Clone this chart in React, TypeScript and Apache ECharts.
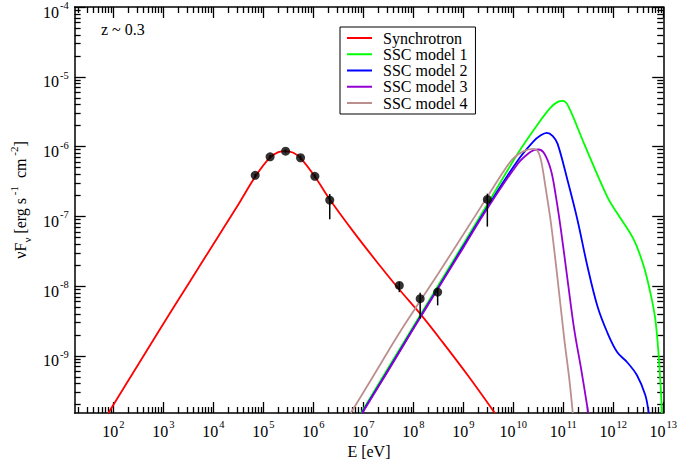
import React, { useEffect, useRef } from 'react';
import * as echarts from 'echarts';

// Axis ranges (log10 units)
const xMin = 1.225;
const xMax = 13;
const yMin = -9.82;
const yMax = -4;

// Major tick exponents
const xMajor = [2, 3, 4, 5, 6, 7, 8, 9, 10, 11, 12, 13];
const yMajor = [-9, -8, -7, -6, -5, -4];
const minorSteps = [2, 3, 4, 5, 6, 7, 8, 9];

// Synchrotron model (log10 E [eV], log10 nuFnu)
const synLogE = [1.9, 2.5, 3.0, 3.5, 4.0, 4.5, 4.84, 5.13, 5.3, 5.45, 5.6, 5.75, 6.03, 6.33, 6.8, 7.3, 7.72, 8.14, 8.57, 9.1, 9.63];
const synLogF = [-9.82, -9.12, -8.54, -7.97, -7.4, -6.83, -6.43, -6.16, -6.08, -6.065, -6.09, -6.17, -6.43, -6.76, -7.22, -7.68, -8.05, -8.4, -8.79, -9.29, -9.82];

// SSC model 1 (green)
const ssc1LogE = [6.955, 7.5, 7.97, 8.5, 9.0, 9.48, 10.09, 10.49, 10.75, 10.89, 10.99, 11.1, 11.418, 11.881, 12.08, 12.412, 12.61, 12.742, 12.841, 12.909, 12.954, 12.974];
const ssc1LogF = [-9.82, -9.17, -8.617, -7.99, -7.4, -6.83, -6.1, -5.68, -5.44, -5.36, -5.346, -5.42, -5.962, -6.722, -6.958, -7.337, -7.717, -8.095, -8.475, -8.997, -9.518, -9.82];

// SSC model 2 (blue)
const ssc2LogE = [6.97, 7.5, 7.97, 8.5, 9.0, 9.48, 10.09, 10.4, 10.55, 10.67, 10.79, 10.887, 11.085, 11.284, 11.483, 11.682, 11.881, 12.08, 12.278, 12.477, 12.642, 12.708];
const ssc2LogF = [-9.82, -9.2, -8.64, -8.02, -7.43, -6.87, -6.2, -5.93, -5.84, -5.805, -5.85, -5.962, -6.484, -7.053, -7.717, -8.286, -8.666, -8.95, -9.092, -9.282, -9.567, -9.82];

// SSC model 3 (violet)
const ssc3LogE = [6.98, 7.5, 7.97, 8.5, 9.0, 9.48, 10.09, 10.3, 10.42, 10.5, 10.62, 10.754, 10.854, 10.953, 11.085, 11.218, 11.36, 11.5];
const ssc3LogF = [-9.82, -9.21, -8.65, -8.03, -7.45, -6.89, -6.246, -6.1, -6.05, -6.043, -6.1, -6.341, -6.722, -7.196, -7.907, -8.618, -9.2, -9.82];

// SSC model 4 (brown)
const ssc4LogE = [6.75, 7.2, 7.77, 8.5, 9.0, 9.5, 9.8, 10.0, 10.2, 10.39, 10.48, 10.555, 10.654, 10.754, 10.887, 11.02, 11.12, 11.19];
const ssc4LogF = [-9.82, -9.29, -8.617, -7.82, -7.26, -6.7, -6.36, -6.17, -6.07, -6.033, -6.057, -6.199, -6.626, -7.1, -7.906, -8.76, -9.33, -9.82];

// Observed data points with error bars
const obsLogE = [4.837, 5.135, 5.445, 5.744, 6.03, 6.328, 7.72, 8.137, 8.487, 9.481];
const obsLogF = [-6.413, -6.147, -6.067, -6.161, -6.427, -6.768, -7.991, -8.181, -8.087, -6.758];
const obsErrLo = [-6.44, -6.17, -6.09, -6.19, -6.45, -7.043, -8.087, -8.467, -8.277, -7.148];
const obsErrHi = [-6.39, -6.12, -6.04, -6.13, -6.40, -6.68, -7.944, -8.097, -8.034, -6.676];

const seriesNames = ['Synchrotron', 'SSC model 1', 'SSC model 2', 'SSC model 3', 'SSC model 4'];
const seriesColors = ['#ff0000', '#00ff00', '#0000ff', '#9400d3', '#bc8f8f'];

const FONT = '"Liberation Serif", "Times New Roman", "DejaVu Serif", serif';

const zip = (a: number[], b: number[]) => a.map((v, i) => [v, b[i]]);

const minorOf = (lo: number, hi: number) => {
  const out: number[] = [];
  for (let d = Math.floor(lo); d < Math.ceil(hi); d++) {
    for (const k of minorSteps) {
      const v = d + Math.log10(k);
      if (v > lo && v < hi) out.push(v);
    }
  }
  return out;
};

export default function App() {
  const ref = useRef<HTMLDivElement>(null);
  useEffect(() => {
    const chart = echarts.init(ref.current!, null, { renderer: 'svg' });
    const xMinor = minorOf(xMin, xMax);
    const yMinor = minorOf(yMin, yMax);
    const rich = {
      b: { fontSize: 16, fontFamily: FONT, color: '#000', lineHeight: 24 },
      s: { fontSize: 10.5, fontFamily: FONT, color: '#000', verticalAlign: 'top', padding: [0, 0, 0, 1] },
    };
    const tickLine = { color: '#000', width: 1.3 };
    const axisBase = {
      type: 'value',
      splitLine: { show: false },
      splitArea: { show: false },
    };
    const xAxes = [
      {
        ...axisBase, position: 'bottom', min: xMin, max: xMax,
        axisLine: { show: true, lineStyle: { color: '#000', width: 1.5 } },
        axisTick: { show: true, inside: true, length: 11, customValues: xMajor, lineStyle: tickLine },
        axisLabel: {
          show: true, customValues: xMajor, margin: 6, rich,
          formatter: (v: number) => `{b|10}{s|${Math.round(v)}}`,
        },
        name: 'E [eV]', nameLocation: 'middle', nameGap: 29,
        nameTextStyle: { fontFamily: FONT, fontSize: 16, color: '#000' },
      },
      {
        ...axisBase, position: 'bottom', min: xMin, max: xMax,
        axisLine: { show: false },
        axisTick: { show: true, inside: true, length: 6, customValues: xMinor, lineStyle: tickLine },
        axisLabel: { show: false },
      },
      {
        ...axisBase, position: 'top', min: xMin, max: xMax,
        axisLine: { show: true, lineStyle: { color: '#000', width: 1.5 } },
        axisTick: { show: true, inside: true, length: 11, customValues: xMajor, lineStyle: tickLine },
        axisLabel: { show: false },
      },
      {
        ...axisBase, position: 'top', min: xMin, max: xMax,
        axisLine: { show: false },
        axisTick: { show: true, inside: true, length: 6, customValues: xMinor, lineStyle: tickLine },
        axisLabel: { show: false },
      },
    ];
    const yAxes = [
      {
        ...axisBase, position: 'left', min: yMin, max: yMax,
        axisLine: { show: true, lineStyle: { color: '#000', width: 1.5 } },
        axisTick: { show: true, inside: true, length: 11, customValues: yMajor, lineStyle: tickLine },
        axisLabel: {
          show: true, customValues: yMajor, margin: 6, rich, padding: [10, 0, 0, 0],
          formatter: (v: number) => `{b|10}{s|${Math.round(v)}}`,
        },
        name: '{a|νF}{sub|ν}{a| [erg s}{sup| -1}{a|  cm}{sup| -2}{a|]}',
        nameLocation: 'middle', nameGap: 40, nameRotate: 90,
        nameTextStyle: {
          fontFamily: FONT, fontSize: 16, color: '#000', padding: [0, 0, 0, 20],
          rich: {
            a: { fontFamily: FONT, fontSize: 16, color: '#000', lineHeight: 24 },
            sub: { fontFamily: FONT, fontSize: 11, color: '#000', verticalAlign: 'bottom' },
            sup: { fontFamily: FONT, fontSize: 11, color: '#000', verticalAlign: 'top' },
          },
        },
      },
      {
        ...axisBase, position: 'left', min: yMin, max: yMax,
        axisLine: { show: false },
        axisTick: { show: true, inside: true, length: 6, customValues: yMinor, lineStyle: tickLine },
        axisLabel: { show: false },
      },
      {
        ...axisBase, position: 'right', min: yMin, max: yMax,
        axisLine: { show: true, lineStyle: { color: '#000', width: 1.5 } },
        axisTick: { show: true, inside: true, length: 11, customValues: yMajor, lineStyle: tickLine },
        axisLabel: { show: false },
      },
      {
        ...axisBase, position: 'right', min: yMin, max: yMax,
        axisLine: { show: false },
        axisTick: { show: true, inside: true, length: 6, customValues: yMinor, lineStyle: tickLine },
        axisLabel: { show: false },
      },
    ];

    const curves = [
      zip(synLogE, synLogF),
      zip(ssc1LogE, ssc1LogF),
      zip(ssc2LogE, ssc2LogF),
      zip(ssc3LogE, ssc3LogF),
      zip(ssc4LogE, ssc4LogF),
    ];

    const lineSeries = curves.map((data, i) => ({
      name: seriesNames[i],
      type: 'line',
      xAxisIndex: 0,
      yAxisIndex: 0,
      data,
      color: seriesColors[i],
      symbol: 'none',
      showSymbol: false,
      smooth: 0.35,
      lineStyle: { color: seriesColors[i], width: 1.8 },
      z: 3,
    }));

    const errData = obsLogE.map((x, i) => [x, obsErrLo[i], obsErrHi[i]]);

    chart.setOption({
      animation: false,
      backgroundColor: '#fff',
      grid: { left: 74, right: 14, top: 4, bottom: 52, containLabel: false },
      xAxis: xAxes,
      yAxis: yAxes,
      legend: {
        show: true,
        data: seriesNames,
        orient: 'vertical',
        left: 340,
        top: 27,
        icon: 'rect',
        itemWidth: 25,
        itemHeight: 2,
        itemGap: 0.25,
        padding: [3, 8, 3, 7],
        borderColor: '#000',
        borderWidth: 1,
        backgroundColor: '#fff',
        selectedMode: false,
        textStyle: { fontFamily: FONT, fontSize: 16, color: '#000', lineHeight: 15.5, padding: [0, 0, 0, 6] },
      },
      graphic: [
        {
          type: 'text', left: 101, top: 21,
          style: { text: 'z ~ 0.3', fontFamily: FONT, fontSize: 16, fill: '#000' },
        },
      ],
      series: [
        ...lineSeries,
        {
          type: 'custom',
          name: 'errors',
          xAxisIndex: 0,
          yAxisIndex: 0,
          data: errData,
          encode: { x: 0, y: [1, 2] },
          z: 4,
          renderItem: (params: any, api: any) => {
            const x = api.value(0);
            const p1 = api.coord([x, api.value(1)]);
            const p2 = api.coord([x, api.value(2)]);
            return {
              type: 'line',
              shape: { x1: p1[0], y1: p1[1], x2: p2[0], y2: p2[1] },
              style: { stroke: '#000', lineWidth: 1.5 },
            };
          },
        },
        {
          type: 'scatter',
          name: 'data',
          xAxisIndex: 0,
          yAxisIndex: 0,
          data: zip(obsLogE, obsLogF),
          symbol: 'circle',
          symbolSize: 9,
          itemStyle: { color: '#000' },
          z: 5,
        },
      ],
    });
    return () => chart.dispose();
  }, []);
  return <div ref={ref} style={{ position: 'absolute', left: 0, top: 0, width: 680, height: 465 }} />;
}
